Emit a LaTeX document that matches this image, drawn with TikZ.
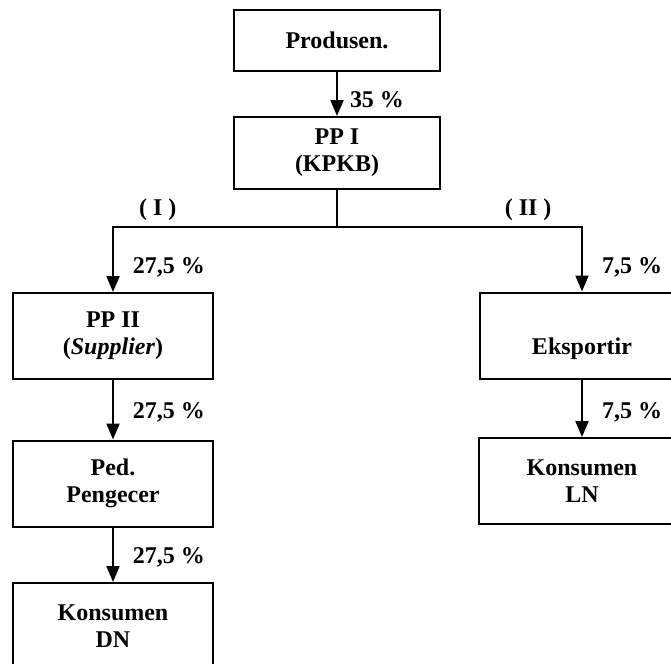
\documentclass[tikz,border=0pt]{standalone}
\usepackage{fontspec}
\setmainfont{Liberation Serif}
\usetikzlibrary{shapes,arrows.meta,chains,positioning}

\begin{document}
\begin{tikzpicture}[%
    >={Triangle[length=8pt,width=6.5pt]}, % Filled arrow heads
    x=0.5pt, y=-0.5pt,                    % Pixel-like units, y going down
    every join/.style={norm},             % Default linetype for connecting boxes
    font=\fontsize{12}{13.5}\selectfont\bfseries,
    ]
% -------------------------------------------------
% Box and connector styles
\tikzset{
  base/.style={draw, line width=1pt, on grid, align=center, inner sep=0pt},
  box/.style={base, rectangle, minimum width=100pt, minimum height=43pt},
  wide/.style={box, minimum width=103pt},
  norm/.style={->, draw, line width=1pt},
  pct/.style={anchor=west, inner sep=0pt, xshift=9.5pt},
  branch/.style={above=2.5pt, inner sep=0pt}
}
\useasboundingbox (0,0) rectangle (671,664);
% -------------------------------------------------
% Start by placing the nodes
\node [wide, minimum height=30.5pt] (prod) at (337,40.5) {Produsen.};
\node [wide, minimum height=36pt, below=56.25pt of prod] (pp1) {PP I\\(KPKB)};
% Domestic line (I)
\node [box, below left=91.5pt and 112pt of pp1] (pp2) {PP II\\(\textit{Supplier})};
\node [box, below=73.75pt of pp2] (ped) {Ped.\\Pengecer};
\node [box, below=71.25pt of ped] (kdn) {Konsumen\\DN};
% Export line (II)
\node [box, minimum width=102pt, below right=91.25pt and 122.5pt of pp1] (eks)
  {\phantom{E}\\Eksportir};
\node [wide, below=72.75pt of eks] (kln) {Konsumen\\LN};

% -------------------------------------------------
% Connectors
\draw [norm] (prod) -- node [pct, pos=0.63, xshift=-3.5pt] {35 \%} (pp1);
\draw [line width=1pt] (pp1.south) -- ++(0,37) coordinate (fork);
\draw [norm] (fork) -| node [branch, pos=0.4] {( I )}
  node [pct, pos=0.81] {27,5 \%} (pp2);
\draw [norm] (fork) -| node [branch, pos=0.39] {( II )}
  node [pct, pos=0.81] {7,5 \%} (eks);
\draw [norm] (pp2) -- node [pct, pos=0.55] {27,5 \%} (ped);
\draw [norm] (ped) -- node [pct, pos=0.54] {27,5 \%} (kdn);
\draw [norm] (eks) -- node [pct, pos=0.58] {7,5 \%} (kln);
% -------------------------------------------------
\end{tikzpicture}
\end{document}
